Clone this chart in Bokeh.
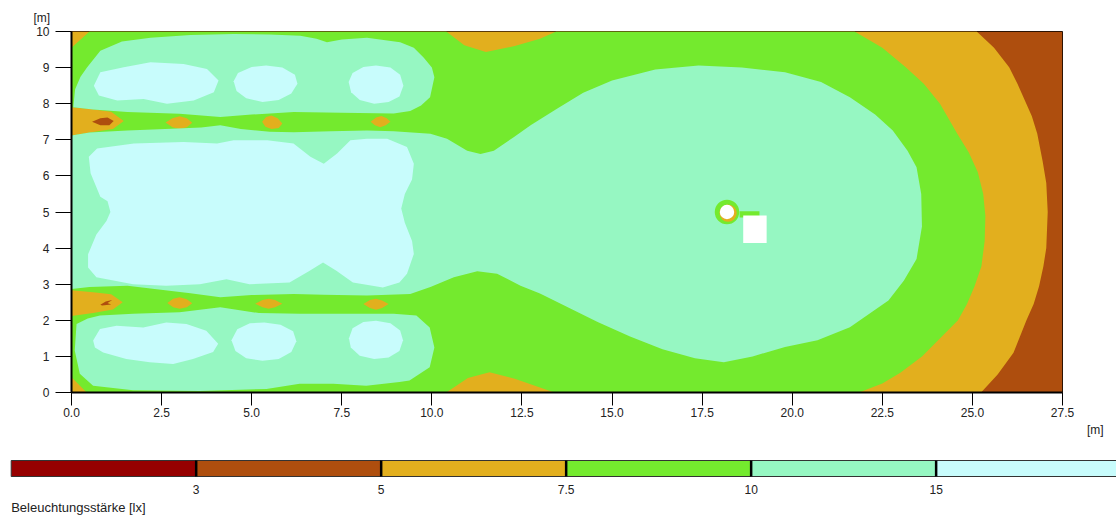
from bokeh.plotting import figure
from bokeh.models import Range1d, FixedTicker, PrintfTickFormatter
from bokeh.embed import file_html
from bokeh.resources import INLINE
from bokeh.core.properties import value

FONT = "Liberation Sans"

# ---- level colours (lx classes) ----
DARK_RED = "#960000"
BROWN = "#AE4E0E"
GOLD = "#E2AF1E"
GREEN = "#74EA2E"
LGREEN = "#96F7C2"
CYAN = "#C8FCFC"

# ---- room extent [m] ----
room_w = 27.5
room_h = 10.0

# ---- axis ticks ----
x_ticks = [0, 2.5, 5, 7.5, 10, 12.5, 15, 17.5, 20, 22.5, 25, 27.5]
y_ticks = [0, 1, 2, 3, 4, 5, 6, 7, 8, 9, 10]
unit_label = "[m]"

# ---- isolux regions (x, y in m) ----
# >= 5 lx (everything left of the 5 lx line on the right wall)
gold_x = [0, 25.24, 25.7, 26.14, 26.5, 26.7, 26.85, 26.97, 27.05, 27.09, 27.05, 26.95, 26.8, 26.65,
          26.45, 26.25, 26.02, 25.6, 25.12, 0]
gold_y = [0, 0, 0.5, 1.1, 2.0, 2.45, 2.94, 3.5, 4.0, 5.0, 5.8, 6.4, 7.17, 7.65,
          8.1, 8.55, 9.01, 9.55, 10, 10]

# >= 7.5 lx
green_x = [0.42, 10.4, 11.0, 11.6, 12.3, 13.4, 21.85, 22.5, 23.0, 23.6, 24.2, 24.6, 24.85, 25.06,
           25.25, 25.34, 25.36, 25.3, 25.15, 24.9, 24.58, 24.1, 23.65, 23.15, 22.5, 21.73,
           13.45, 13.0, 12.3, 11.5, 10.9, 10.4, 0.5, 0, 0]
green_y = [0, 0, 0.4, 0.56, 0.38, 0, 0, 0.25, 0.55, 1.0, 1.6, 2.0, 2.45, 2.94,
           3.5, 4.2, 4.89, 5.5, 6.1, 6.65, 7.17, 8.0, 8.55, 9.01, 9.55, 10,
           10, 9.8, 9.6, 9.43, 9.62, 10, 10, 9.55, 0.42]

# 5..7.5 lx islands inside the two dark strips
spot_gold_xs = [
    [0, 0.5, 1.1, 1.45, 1.15, 0.5, 0],
    [2.61, 2.8, 3.0, 3.2, 3.35, 3.2, 3.0, 2.8],
    [5.29, 5.4, 5.55, 5.72, 5.85, 5.75, 5.55, 5.38],
    [8.30, 8.45, 8.6, 8.75, 8.85, 8.72, 8.57, 8.42],
    [0, 0.6, 1.1, 1.42, 1.15, 0.6, 0],
    [2.66, 2.82, 3.0, 3.2, 3.35, 3.2, 3.0, 2.82],
    [5.1, 5.3, 5.47, 5.65, 5.85, 5.65, 5.47, 5.3],
    [8.1, 8.28, 8.45, 8.62, 8.8, 8.62, 8.45, 8.28],
]
spot_gold_ys = [
    [7.9, 7.85, 7.78, 7.52, 7.3, 7.2, 7.12],
    [7.48, 7.6, 7.65, 7.6, 7.47, 7.35, 7.30, 7.35],
    [7.5, 7.63, 7.67, 7.6, 7.45, 7.33, 7.30, 7.36],
    [7.5, 7.62, 7.66, 7.6, 7.5, 7.4, 7.35, 7.4],
    [2.83, 2.78, 2.72, 2.5, 2.3, 2.2, 2.12],
    [2.48, 2.6, 2.64, 2.58, 2.47, 2.36, 2.32, 2.36],
    [2.46, 2.56, 2.6, 2.56, 2.46, 2.36, 2.32, 2.36],
    [2.45, 2.56, 2.6, 2.55, 2.45, 2.34, 2.29, 2.34],
]

# 3..5 lx specks
spot_brown_xs = [[0.57, 0.8, 1.0, 1.17, 1.05, 0.8], [0.8, 0.95, 1.13, 1.0, 1.1, 0.85]]
spot_brown_ys = [[7.5, 7.6, 7.62, 7.52, 7.4, 7.4], [2.43, 2.52, 2.56, 2.48, 2.44, 2.41]]

# >= 10 lx
top_band_x = [0.05, 0.1, 0.25, 0.43, 0.8, 1.4, 2.19, 3.3, 4.5, 5.5, 6.35, 6.8, 7.09, 7.5, 8.2, 9.12,
              9.5, 9.77, 10.0, 10.07, 9.95, 9.7, 9.4, 8.94, 7.5, 6.17, 5.0, 4.13, 3.0, 1.55, 0.6]
top_band_y = [7.9, 8.4, 8.75, 9.0, 9.47, 9.72, 9.83, 9.9, 9.93, 9.92, 9.88, 9.8, 9.70, 9.78, 9.83, 9.70,
              9.55, 9.28, 9.0, 8.73, 8.18, 7.95, 7.8, 7.73, 7.75, 7.77, 7.7, 7.63, 7.72, 7.77, 7.84]

mid_x = [0, 0.5, 1.55, 2.6, 3.6, 4.13, 4.7, 5.5, 6.17, 7.2, 8.2, 8.94, 9.96, 10.42, 10.98, 11.35,
         11.72, 12.27, 12.74, 13.46, 14.2, 15.0, 16.2, 17.4, 18.6, 19.8, 20.8, 21.6, 22.3, 22.79,
         23.2, 23.45, 23.58, 23.6, 23.45, 23.1, 22.67, 21.6, 20.7, 19.8, 18.9, 18.1, 17.3, 16.4,
         15.5, 14.6, 13.8, 13.0, 12.46, 11.81, 11.26, 10.61, 9.96, 9.4, 8.2, 7.0, 6.17, 5.0, 4.13,
         3.3, 1.55, 0.5, 0]
mid_y = [7.12, 7.2, 7.26, 7.3, 7.34, 7.40, 7.3, 7.22, 7.21, 7.24, 7.26, 7.24, 7.17, 7.03, 6.70, 6.61,
         6.70, 7.07, 7.40, 7.85, 8.3, 8.64, 8.95, 9.06, 9.0, 8.87, 8.6, 8.18, 7.7, 7.26,
         6.7, 6.24, 5.5, 4.6, 3.7, 3.1, 2.55, 1.81, 1.45, 1.26, 1.0, 0.84, 0.95, 1.2,
         1.55, 1.95, 2.35, 2.74, 2.96, 3.29, 3.36, 3.19, 2.92, 2.73, 2.69, 2.71, 2.73, 2.7, 2.64,
         2.75, 2.96, 2.92, 2.87]

bot_band_x = [0.14, 0.45, 0.79, 1.71, 3.0, 4.13, 5.2, 6.33, 7.5, 8.94, 9.57, 9.94, 10.07, 9.94,
              9.38, 9.1, 8.18, 7.26, 6.33, 5.41, 3.56, 1.71, 0.6, 0.23, 0.09]
bot_band_y = [1.9, 2.05, 2.13, 2.18, 2.22, 2.36, 2.2, 2.18, 2.18, 2.18, 2.13, 1.8, 1.25, 0.7,
              0.33, 0.29, 0.19, 0.24, 0.24, 0.1, 0.04, 0.06, 0.19, 0.52, 1.16]

# >= 15 lx
cyan_xs = [
    [0.62, 0.8, 1.45, 2.19, 3.11, 3.76, 4.08, 3.95, 3.39, 2.65, 2.0, 1.27, 0.76],
    [4.5, 4.62, 5.0, 5.4, 5.85, 6.2, 6.27, 6.1, 5.75, 5.3, 4.85, 4.58],
    [7.69, 7.8, 8.1, 8.45, 8.85, 9.12, 9.21, 9.1, 8.8, 8.4, 8.0, 7.76],
    [0.48, 0.71, 1.73, 3.11, 4.04, 4.5, 5.43, 6.16, 6.63, 7.0, 7.37, 7.74, 8.2, 8.76, 9.31, 9.5,
     9.45, 9.25, 9.15, 9.25, 9.45, 9.5, 9.31, 9.1, 8.64, 7.81, 7.35, 6.98, 6.61, 6.05, 4.94, 4.3,
     3.56, 2.63, 1.71, 0.69, 0.46, 0.46, 0.69, 0.97, 1.08, 1.0, 0.8, 0.53],
    [0.60, 0.79, 1.25, 1.99, 2.63, 3.19, 3.74, 4.07, 3.93, 3.37, 2.82, 2.17, 1.52, 0.88, 0.65],
    [4.44, 4.6, 4.95, 5.35, 5.8, 6.15, 6.24, 6.1, 5.75, 5.3, 4.85, 4.55],
    [7.7, 7.8, 8.1, 8.45, 8.85, 9.12, 9.2, 9.1, 8.8, 8.4, 8.0, 7.75],
]
cyan_ys = [
    [8.5, 8.87, 9.01, 9.15, 9.10, 8.96, 8.64, 8.32, 8.09, 8.0, 8.13, 8.09, 8.23],
    [8.62, 8.85, 9.02, 9.06, 9.0, 8.8, 8.55, 8.28, 8.1, 8.05, 8.15, 8.35],
    [8.6, 8.85, 9.02, 9.06, 9.0, 8.8, 8.5, 8.2, 8.05, 8.0, 8.1, 8.32],
    [6.53, 6.76, 6.9, 6.94, 6.9, 6.99, 6.99, 6.9, 6.53, 6.34, 6.62, 6.99, 7.03, 7.03, 6.8, 6.34,
     5.9, 5.5, 5.1, 4.7, 4.2, 3.84, 3.29, 3.05, 2.91, 3.05, 3.37, 3.6, 3.37, 3.05, 3.0, 3.14,
     3.0, 2.96, 3.0, 3.19, 3.46, 3.83, 4.38, 4.75, 5.0, 5.3, 5.42, 6.07],
    [1.44, 1.76, 1.85, 1.80, 1.94, 1.90, 1.71, 1.35, 1.12, 0.93, 0.79, 0.84, 0.93, 1.11, 1.25],
    [1.45, 1.75, 1.92, 1.94, 1.88, 1.7, 1.42, 1.12, 0.93, 0.88, 0.95, 1.15],
    [1.5, 1.78, 1.95, 1.99, 1.92, 1.72, 1.45, 1.15, 0.97, 0.93, 1.02, 1.25],
]

# obstacle (column + box) in the middle of the big area
col_x, col_y = [18.19], [5.0]
col_ring_r, col_gold_r, col_r = [0.34], [0.24], [0.2]
box_left, box_right, box_bottom, box_top = [18.64], [19.29], [4.14], [4.9]

# ---- legend ----
legend_colors = [DARK_RED, BROWN, GOLD, GREEN, LGREEN, CYAN]
legend_labels = ["3", "5", "7.5", "10", "15"]
legend_title = "Beleuchtungsstärke [lx]"

# ================= main plot =================
p = figure(width=1116, height=422, x_range=Range1d(0, room_w), y_range=Range1d(0, room_h),
           output_backend="svg", toolbar_location=None,
           min_border_left=71, min_border_right=54, min_border_top=31, min_border_bottom=30)
p.grid.visible = False
p.background_fill_color = "white"
p.border_fill_color = "white"
p.outline_line_color = "black"
p.outline_line_width = 1

# y unit label above the axis (as plot title, shifted left of the frame)
p.title.text = unit_label
p.title.align = "left"
p.title.offset = -38
p.title.standoff = 14
p.title.text_font = FONT
p.title.text_font_size = "12px"
p.title.text_font_style = "normal"
p.title.text_color = "#222222"

p.quad(left=[0], right=[room_w], bottom=[0], top=[room_h], fill_color=BROWN, line_color=None)
p.patches(xs=[gold_x], ys=[gold_y], fill_color=GOLD, line_color=None)
p.patches(xs=[green_x], ys=[green_y], fill_color=GREEN, line_color=None)
p.patches(xs=spot_gold_xs, ys=spot_gold_ys, fill_color=GOLD, line_color=None)
p.patches(xs=spot_brown_xs, ys=spot_brown_ys, fill_color=BROWN, line_color=None)
p.patches(xs=[top_band_x, mid_x, bot_band_x], ys=[top_band_y, mid_y, bot_band_y],
          fill_color=LGREEN, line_color=None)
p.patches(xs=cyan_xs, ys=cyan_ys, fill_color=CYAN, line_color=None)

p.quad(left=[box_left[0] - 0.1], right=[box_right[0] - 0.2], bottom=[box_top[0] - 0.05],
       top=[box_top[0] + 0.12], fill_color=GREEN, line_color=None)
p.circle(x=col_x, y=col_y, radius=col_ring_r, fill_color=GREEN, line_color=None)
p.circle(x=[col_x[0] + 0.03], y=[col_y[0] - 0.03], radius=col_gold_r, fill_color=GOLD, line_color=None)
p.circle(x=col_x, y=col_y, radius=col_r, fill_color="white", line_color=None)
p.quad(left=box_left, right=box_right, bottom=box_bottom, top=box_top, fill_color="white", line_color=None)

p.xaxis.ticker = FixedTicker(ticks=x_ticks)
p.xaxis.formatter = PrintfTickFormatter(format="%.1f")
p.yaxis.ticker = FixedTicker(ticks=y_ticks)
p.yaxis.formatter = PrintfTickFormatter(format="%d")
for ax in (p.xaxis[0], p.yaxis[0]):
    ax.axis_line_color = "black"
    ax.axis_line_width = 2
    ax.major_tick_line_color = "black"
    ax.major_tick_line_width = 1
    ax.major_tick_in = 0
    ax.minor_tick_line_color = None
    ax.major_label_text_font = FONT
    ax.major_label_text_font_size = "12px"
    ax.major_label_text_color = "#222222"
p.xaxis.major_tick_out = 13
p.xaxis.major_label_standoff = 2
p.yaxis.major_tick_out = 16
p.yaxis.major_label_standoff = 6

# ================= legend bar (+ x unit label) =================
n = len(legend_colors)
seg_left = list(range(n))
seg_right = [i + 1 for i in range(n)]
divs = list(range(1, n))

q = figure(width=1116, height=94, x_range=Range1d(-0.0578, 5.975), y_range=Range1d(94, 0),
           output_backend="svg", toolbar_location=None, x_axis_type=None, y_axis_type=None,
           min_border_left=0, min_border_right=0, min_border_top=0, min_border_bottom=0)
q.outline_line_color = None
q.grid.visible = False
q.background_fill_color = "white"
q.border_fill_color = "white"
q.text(x=[5.86], y=[7], text=[unit_label], text_align="center", text_baseline="middle",
       text_font=value(FONT), text_font_size="12px", text_color="#222222")
q.quad(left=seg_left, right=seg_right, top=[38] * n, bottom=[54] * n,
       fill_color=legend_colors, line_color="#333333", line_width=1)
q.segment(x0=divs, y0=[38] * len(divs), x1=divs, y1=[54] * len(divs), line_color="black", line_width=2.5)
q.text(x=divs, y=[67] * len(divs), text=legend_labels, text_align="center", text_baseline="middle",
       text_font=value(FONT), text_font_size="12px", text_color="#222222")
q.text(x=[0], y=[85], text=[legend_title], text_align="left", text_baseline="alphabetic",
       text_font=value(FONT), text_font_size="13px", text_color="#222222")

open("out.html", "w").write(file_html([p, q], INLINE))
